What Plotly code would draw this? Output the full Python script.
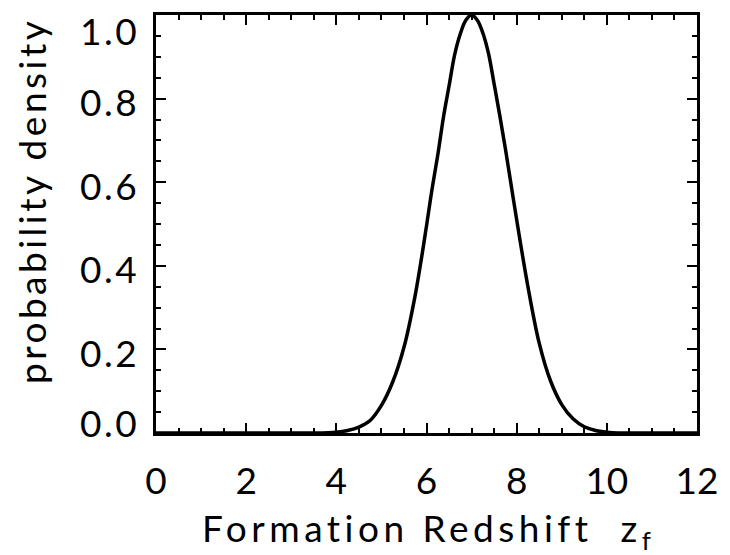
import plotly.graph_objects as go

# Data
redshift = [0.0, 1.0, 2.0, 3.0, 3.5, 4.0, 4.25, 4.5, 4.75,
            5.0, 5.25, 5.5, 5.75, 6.0, 6.125, 6.25, 6.375, 6.5, 6.625, 6.75, 6.875,
            7.0, 7.125, 7.25, 7.375, 7.5, 7.625, 7.75, 7.875,
            8.0, 8.25, 8.5, 8.75, 9.0, 9.25, 9.5, 9.75, 10.0, 10.25, 10.5,
            11.0, 11.5, 12.0]
density = [0.0, 0.0, 0.0, 0.0, 0.0, 0.002, 0.006, 0.014, 0.03,
           0.066, 0.122, 0.205, 0.33, 0.495, 0.585, 0.665, 0.755, 0.83, 0.905, 0.955, 0.988,
           1.0, 0.988, 0.957, 0.908, 0.835, 0.76, 0.68, 0.595,
           0.51, 0.35, 0.215, 0.125, 0.068, 0.034, 0.015, 0.006, 0.002, 0.0, 0.0,
           0.0, 0.0, 0.0]

x_ticks = [0, 2, 4, 6, 8, 10, 12]
x_tick_labels = ["0", "2", "4", "6", "8", "10", "12"]
y_ticks = [0.0, 0.2, 0.4, 0.6, 0.8, 1.0]
y_tick_labels = ["0.0", "0.2", "0.4", "0.6", "0.8", "1.0"]

FONT = "Lato"
FS = 37
W = 400


def spaced(t, px):
    return '<span style="letter-spacing:%.1fpx">%s</span>' % (px, t)


fig = go.Figure()
fig.add_trace(go.Scatter(x=redshift, y=density, mode="lines",
                         line=dict(color="black", width=3.5, shape="spline", smoothing=1.0),
                         showlegend=False, cliponaxis=False))

axis_common = dict(showgrid=False, zeroline=False, showline=True, linecolor="black",
                   linewidth=3, mirror="allticks", ticks="inside", tickcolor="black",
                   tickwidth=2)

fig.update_xaxes(range=[0, 12], tickvals=x_ticks, ticktext=x_tick_labels, ticklen=10,
                 tickfont=dict(family=FONT, size=FS, color="black", weight=W),
                 ticklabelstandoff=14,
                 minor=dict(ticks="inside", dtick=0.5, ticklen=5, tickwidth=2, tickcolor="black"),
                 **axis_common)
fig.update_yaxes(range=[0, 1.0], tickvals=y_ticks, ticklen=10, showticklabels=False,
                 minor=dict(ticks="inside", dtick=0.05, ticklen=5, tickwidth=2, tickcolor="black"),
                 **axis_common)

annotations = []
shifts = {"0.0": 11, "1.0": -15}
for v, lab in zip(y_ticks, y_tick_labels):
    annotations.append(dict(x=0, xref="paper", y=v, yref="y", text=spaced(lab, 2.5), showarrow=False,
                            xanchor="right", yanchor="middle", xshift=-15,
                            yshift=shifts.get(lab, -3),
                            font=dict(family=FONT, size=FS, color="black", weight=W)))
annotations.append(dict(x=-0.2304, xref="paper", y=0.5558, yref="paper",
                        text=spaced("probability density", 3.5), textangle=-90, showarrow=False,
                        xanchor="center", yanchor="middle",
                        font=dict(family=FONT, size=FS, color="black", weight=W)))
annotations.append(dict(x=0.5, xref="paper", y=-0.233, yref="paper",
                        text=spaced("Formation Redshift  z", 4.5) + "<sub>f</sub>", showarrow=False,
                        xanchor="center", yanchor="middle",
                        font=dict(family=FONT, size=FS, color="black", weight=W)))

fig.update_layout(width=730, height=555, margin=dict(l=156, r=27, t=12, b=122),
                  paper_bgcolor="white", plot_bgcolor="white",
                  annotations=annotations)

fig.write_html("out.html")
